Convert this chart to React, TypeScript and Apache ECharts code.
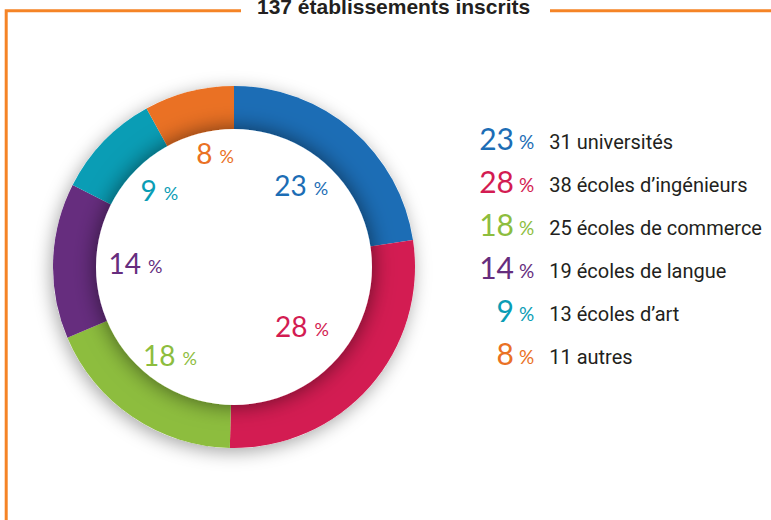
import React, { useEffect, useRef } from 'react';
import * as echarts from 'echarts';

// ---- data ----
const categories = ['universités', 'écoles d’ingénieurs', 'écoles de commerce', 'écoles de langue', 'écoles d’art', 'autres'];
const counts = [31, 38, 25, 19, 13, 11];
const percents = [23, 28, 18, 14, 9, 8];
const titleText = '137 établissements inscrits';

// ---- styles ----
const colors = ['#1c6db5', '#d31c52', '#8dbd3e', '#662d7e', '#0a9db5', '#ea7124'];
// nudges (padding) for the in-ring labels: [top, right, bottom, left]
const labelNudges: number[][] = [
  [0, 4, 4, 0],
  [0, 23, 22, 0],
  [0, 9, 0, 0],
  [0, 0, 0, 15],
  [0, 0, 6, 3],
  [0, 0, 22, 15],
];
const ORANGE = '#f58426';
const TEXT = '#231f20';
const LABEL_FONT = "Roboto, 'Liberation Sans', sans-serif";
const DIGITS = "Lato, 'Open Sans', sans-serif";

const CENTER = [234, 267];
const R_OUT = 181;
const R_IN = 138;

export default function App() {
  const ref = useRef<HTMLDivElement>(null);

  useEffect(() => {
    if (!ref.current) return;
    const chart = echarts.init(ref.current, undefined, { renderer: 'svg' });

    const legendRich: Record<string, any> = {
      l: {
        color: TEXT,
        fontFamily: LABEL_FONT,
        fontSize: 20,
        lineHeight: 20,
        align: 'right',
        verticalAlign: 'bottom',
        padding: [0, 0, 1, 15],
      },
    };
    const labelRich: Record<string, any> = {};
    colors.forEach((c, i) => {
      legendRich['n' + i] = {
        color: c,
        fontFamily: DIGITS,
        fontSize: 30,
        lineHeight: 30,
        width: 36,
        align: 'right',
        verticalAlign: 'bottom',
      };
      legendRich['p' + i] = {
        color: c,
        fontFamily: DIGITS,
        fontSize: 19,
        lineHeight: 19,
        align: 'right',
        verticalAlign: 'bottom',
        padding: [0, 0, 2, 5],
      };
      labelRich['n' + i] = {
        color: c,
        fontFamily: DIGITS,
        fontSize: 28,
        lineHeight: 28,
        verticalAlign: 'bottom',
      };
      labelRich['p' + i] = {
        color: c,
        fontFamily: DIGITS,
        fontSize: 18,
        lineHeight: 18,
        verticalAlign: 'bottom',
        padding: [0, 0, 2, 7],
      };
    });

    const ringData = categories.map((name, i) => ({
      name,
      value: counts[i],
      itemStyle: { color: colors[i] },
    }));

    const labelData = categories.map((name, i) => ({
      name,
      value: counts[i],
      label: { padding: labelNudges[i] },
    }));

    chart.setOption({
      animation: false,
      backgroundColor: '#ffffff',
      title: {
        text: titleText,
        left: 257,
        top: -4,
        padding: 0,
        textStyle: {
          fontFamily: "'Liberation Sans', Arial, sans-serif",
          fontWeight: 'bold',
          fontSize: 21,
          color: TEXT,
        },
      },
      legend: {
        data: categories,
        orient: 'vertical',
        left: 473,
        top: 123,
        padding: 0,
        itemGap: 13,
        itemWidth: 0,
        itemHeight: 0,
        icon: 'none',
        selectedMode: false,
        formatter: (name: string) => {
          const i = categories.indexOf(name);
          return `{n${i}|${percents[i]}}{p${i}|%}{l|${counts[i]} ${name}}`;
        },
        textStyle: { rich: legendRich },
      },
      graphic: [
        {
          type: 'polyline',
          shape: { points: [[241, 10.7], [6.2, 10.7], [6.2, 530]] },
          style: { stroke: ORANGE, lineWidth: 3, fill: null },
          z: 10,
        },
        {
          type: 'line',
          shape: { x1: 550, y1: 10.7, x2: 780, y2: 10.7 },
          style: { stroke: ORANGE, lineWidth: 3 },
          z: 10,
        },
      ],
      series: [
        {
          type: 'pie',
          name: 'shadow',
          z: 1,
          silent: true,
          center: CENTER,
          radius: [0, R_OUT],
          label: { show: false },
          labelLine: { show: false },
          data: [{ name: '_bg', value: 1 }],
          itemStyle: {
            color: '#ffffff',
            shadowBlur: 18,
            shadowColor: 'rgba(0,0,0,0.35)',
            shadowOffsetX: -2,
            shadowOffsetY: 4,
          },
        },
        {
          type: 'pie',
          name: 'ring',
          z: 2,
          silent: true,
          center: CENTER,
          radius: [0, R_OUT],
          startAngle: 90,
          clockwise: true,
          label: { show: false },
          labelLine: { show: false },
          data: ringData,
        },
        {
          type: 'pie',
          name: 'hole',
          z: 3,
          silent: true,
          center: CENTER,
          radius: [0, R_IN],
          label: { show: false },
          labelLine: { show: false },
          data: [{ name: '_hole', value: 1 }],
          itemStyle: {
            color: '#ffffff',
            shadowBlur: 22,
            shadowColor: 'rgba(0,0,0,0.55)',
          },
        },
        {
          type: 'pie',
          name: 'labels',
          z: 4,
          silent: true,
          center: CENTER,
          radius: [0, 206],
          startAngle: 90,
          clockwise: true,
          itemStyle: { color: 'rgba(0,0,0,0)' },
          labelLine: { show: false },
          label: {
            show: true,
            position: 'inside',
            formatter: (p: any) => `{n${p.dataIndex}|${percents[p.dataIndex]}}{p${p.dataIndex}|%}`,
            rich: labelRich,
          },
          data: labelData,
        },
      ],
    });

    return () => chart.dispose();
  }, []);

  return (
    <div
      ref={ref}
      style={{ position: 'fixed', left: 0, top: 0, width: 771, height: 520, background: '#fff' }}
    />
  );
}
